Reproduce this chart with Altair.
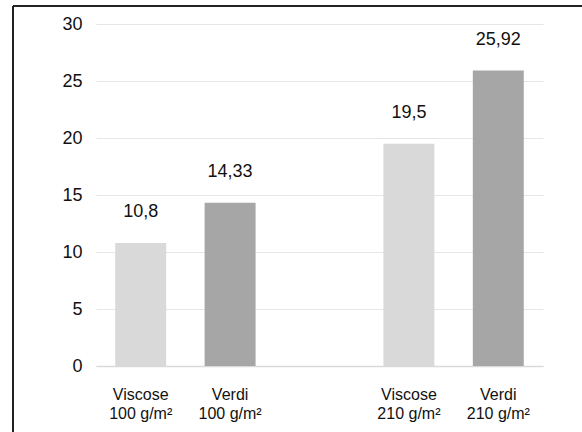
import altair as alt
import pandas as pd

# Bar categories (two-line labels separated by "|"), with an empty slot between the groups
categories = ["Viscose|100 g/m²", "Verdi|100 g/m²", "Viscose|210 g/m²", "Verdi|210 g/m²"]
x_domain = ["Viscose|100 g/m²", "Verdi|100 g/m²", " ", "Viscose|210 g/m²", "Verdi|210 g/m²"]
values = [10.8, 14.33, 19.5, 25.92]
fabric = ["Viscose", "Verdi", "Viscose", "Verdi"]

df = pd.DataFrame({"cat": categories, "v": values, "fabric": fabric})

FONT = "Liberation Sans"
W, H = 447, 342

x_enc = alt.X(
    "cat:N",
    scale=alt.Scale(domain=x_domain, paddingInner=0.43, paddingOuter=0.215),
    axis=alt.Axis(
        title=None,
        labelExpr="split(datum.value, '|')",
        labelAngle=0,
        labelFontSize=16,
        labelLineHeight=19,
        labelPadding=20,
        labelColor="#111",
        labelFont=FONT,
        ticks=False,
        domain=True,
        domainColor="#d9d9d9",
        domainWidth=1.5,
        grid=False,
    ),
)

y_enc = alt.Y(
    "v:Q",
    scale=alt.Scale(domain=[0, 30], nice=False),
    axis=alt.Axis(
        title=None,
        values=[0, 5, 10, 15, 20, 25, 30],
        labelFontSize=18,
        labelFont=FONT,
        labelColor="#111",
        labelPadding=14,
        ticks=False,
        domain=False,
        grid=True,
        gridColor="#e6e6e6",
        gridWidth=1.2,
    ),
)

bars = alt.Chart(df).mark_bar().encode(
    x=x_enc,
    y=y_enc,
    color=alt.Color(
        "fabric:N",
        scale=alt.Scale(domain=["Viscose", "Verdi"], range=["#d9d9d9", "#a6a6a6"]),
        legend=None,
    ),
)

labels = (
    alt.Chart(df)
    .transform_calculate(lab="replace(toString(datum.v), '.', ',')")
    .mark_text(dy=-31, fontSize=18, font=FONT, color="#111", baseline="middle")
    .encode(x=alt.X("cat:N"), y=alt.Y("v:Q"), text="lab:N")
)

# Outer frame lines (top and left edges of the figure border)
frame_top = alt.Chart(df).mark_rule(color="#222", strokeWidth=1.5, clip=False).encode(
    x=alt.value(-83), x2=alt.value(W + 60), y=alt.value(-18)
)
frame_left = alt.Chart(df).mark_rule(color="#222", strokeWidth=1.5, clip=False).encode(
    x=alt.value(-83), y=alt.value(-18), y2=alt.value(H + 80)
)

chart = (
    alt.layer(bars, labels, frame_top, frame_left)
    .properties(
        width=W,
        height=H,
        background="white",
        autosize=alt.AutoSizeParams(type="none"),
        padding={"left": 96, "top": 24, "right": 39, "bottom": 66},
    )
    .configure_view(strokeWidth=0, stroke="transparent")
)

chart.save("out.html", embed_options={"renderer": "svg", "actions": False})
